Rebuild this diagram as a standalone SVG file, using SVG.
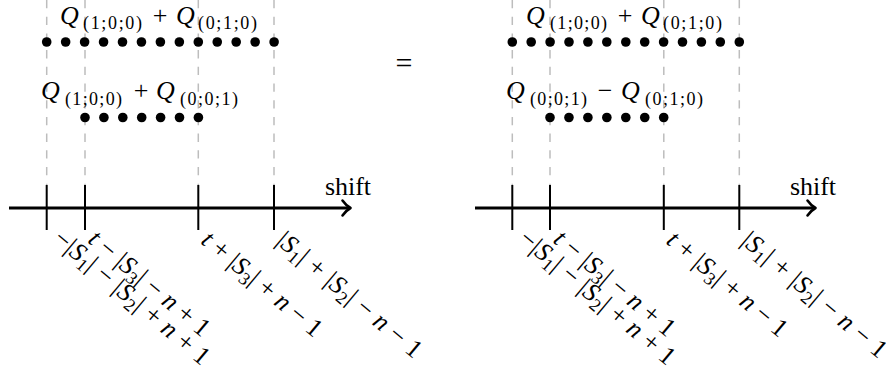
<svg xmlns="http://www.w3.org/2000/svg" width="886" height="378" viewBox="0 0 886 378">
<defs>
<style>
.t{font-family:"Liberation Serif","Times New Roman",serif;fill:#000}
.m{font-size:26px}
.s{font-size:18px}
.i{font-style:italic}
.dash{stroke:#bdbdbd;stroke-width:1.5;stroke-dasharray:8.3 8.4;fill:none}
.axis{stroke:#000;stroke-width:2.9;fill:none}
.arr{stroke:#000;stroke-width:2.6;fill:none;stroke-linecap:round;stroke-linejoin:round}
.tick{stroke:#000;stroke-width:2;fill:none}
.dot{fill:#000}
.lab{font-size:26px}
</style>
</defs>
<rect width="886" height="378" fill="#fff"/>

<g id="connectors">
  <path class="dash" d="M46.7,0V185M85,0V185M198.3,0V185M274,0V185"/>
  <path class="dash" d="M512.3,0V185M550,0V185M663.8,0V185M739.3,0V185"/>
  <path class="axis" d="M9,208H349"/>
  <path class="arr" d="M342.5,200.5Q346,205.5 350.5,208Q346,210.5 342.5,215.5"/>
  <path class="tick" d="M46.7,185V230M85,185V230M198.3,185V230M274,185V230"/>
  <path class="axis" d="M475,208H814"/>
  <path class="arr" d="M807.5,200.5Q811,205.5 815.5,208Q811,210.5 807.5,215.5"/>
  <path class="tick" d="M512.3,185V230M550,185V230M663.8,185V230M739.3,185V230"/>
</g>

<g id="left-top-row">
  <text class="t m i" x="60" y="23.5">Q</text>
  <text class="t s" x="83" y="29" textLength="59" lengthAdjust="spacing">(1;0;0)</text>
  <text class="t m" x="160" y="23.5" text-anchor="middle">+</text>
  <text class="t m i" x="176" y="23.5">Q</text>
  <text class="t s" x="198" y="29" textLength="59" lengthAdjust="spacing">(0;1;0)</text>
  <g class="dot">
    <circle cx="46.7" cy="42" r="4.8"/><circle cx="65.65" cy="42" r="4.8"/><circle cx="84.6" cy="42" r="4.8"/><circle cx="103.55" cy="42" r="4.8"/><circle cx="122.5" cy="42" r="4.8"/><circle cx="141.45" cy="42" r="4.8"/><circle cx="160.4" cy="42" r="4.8"/><circle cx="179.35" cy="42" r="4.8"/><circle cx="198.3" cy="42" r="4.8"/><circle cx="217.25" cy="42" r="4.8"/><circle cx="236.2" cy="42" r="4.8"/><circle cx="255.15" cy="42" r="4.8"/><circle cx="274.1" cy="42" r="4.8"/>
  </g>
</g>

<g id="left-bottom-row">
  <text class="t m i" x="41" y="99">Q</text>
  <text class="t s" x="65" y="104.5" textLength="57" lengthAdjust="spacing">(1;0;0)</text>
  <text class="t m" x="141" y="99" text-anchor="middle">+</text>
  <text class="t m i" x="156" y="99">Q</text>
  <text class="t s" x="180" y="104.5" textLength="58" lengthAdjust="spacing">(0;0;1)</text>
  <g class="dot">
    <circle cx="85" cy="117.5" r="4.8"/><circle cx="103.9" cy="117.5" r="4.8"/><circle cx="122.8" cy="117.5" r="4.8"/><circle cx="141.7" cy="117.5" r="4.8"/><circle cx="160.6" cy="117.5" r="4.8"/><circle cx="179.5" cy="117.5" r="4.8"/><circle cx="198.4" cy="117.5" r="4.8"/>
  </g>
</g>

<g id="left-shift">
  <text class="t m" x="325" y="195" textLength="46" lengthAdjust="spacing">shift</text>
</g>

<g id="left-labels">
  <text class="t lab" transform="translate(52,241) rotate(40)" textLength="195" lengthAdjust="spacing">−|<tspan class="i">S</tspan><tspan class="s" dy="5">1</tspan><tspan dy="-5">| − |</tspan><tspan class="i">S</tspan><tspan class="s" dy="5">2</tspan><tspan dy="-5">| + </tspan><tspan class="i">n</tspan> + 1</text>
  <text class="t lab" transform="translate(86.7,241.5) rotate(40)" textLength="150" lengthAdjust="spacing"><tspan class="i">t</tspan> − |<tspan class="i">S</tspan><tspan class="s" dy="5">3</tspan><tspan dy="-5">| − </tspan><tspan class="i">n</tspan> + 1</text>
  <text class="t lab" transform="translate(199.7,242.5) rotate(40)" textLength="149" lengthAdjust="spacing"><tspan class="i">t</tspan> + |<tspan class="i">S</tspan><tspan class="s" dy="5">3</tspan><tspan dy="-5">| + </tspan><tspan class="i">n</tspan> − 1</text>
  <text class="t lab" transform="translate(275,243) rotate(40)" textLength="181" lengthAdjust="spacing">|<tspan class="i">S</tspan><tspan class="s" dy="5">1</tspan><tspan dy="-5">| + |</tspan><tspan class="i">S</tspan><tspan class="s" dy="5">2</tspan><tspan dy="-5">| − </tspan><tspan class="i">n</tspan> − 1</text>
</g>

<g id="equals">
  <text class="t" x="404" y="73" font-size="30" text-anchor="middle">=</text>
</g>

<g id="right-top-row">
  <text class="t m i" x="526" y="23.5">Q</text>
  <text class="t s" x="550" y="29" textLength="57" lengthAdjust="spacing">(1;0;0)</text>
  <text class="t m" x="625" y="23.5" text-anchor="middle">+</text>
  <text class="t m i" x="641" y="23.5">Q</text>
  <text class="t s" x="663" y="29" textLength="59" lengthAdjust="spacing">(0;1;0)</text>
  <g class="dot">
    <circle cx="512.3" cy="42" r="4.8"/><circle cx="531.2" cy="42" r="4.8"/><circle cx="550.1" cy="42" r="4.8"/><circle cx="569" cy="42" r="4.8"/><circle cx="587.9" cy="42" r="4.8"/><circle cx="606.8" cy="42" r="4.8"/><circle cx="625.8" cy="42" r="4.8"/><circle cx="644.7" cy="42" r="4.8"/><circle cx="663.6" cy="42" r="4.8"/><circle cx="682.5" cy="42" r="4.8"/><circle cx="701.4" cy="42" r="4.8"/><circle cx="720.3" cy="42" r="4.8"/><circle cx="739.3" cy="42" r="4.8"/>
  </g>
</g>

<g id="right-bottom-row">
  <text class="t m i" x="506" y="99">Q</text>
  <text class="t s" x="530" y="104.5" textLength="57" lengthAdjust="spacing">(0;0;1)</text>
  <text class="t m" x="605" y="99" text-anchor="middle">−</text>
  <text class="t m i" x="621" y="99">Q</text>
  <text class="t s" x="645" y="104.5" textLength="58" lengthAdjust="spacing">(0;1;0)</text>
  <g class="dot">
    <circle cx="550" cy="117.5" r="4.8"/><circle cx="568.95" cy="117.5" r="4.8"/><circle cx="587.9" cy="117.5" r="4.8"/><circle cx="606.85" cy="117.5" r="4.8"/><circle cx="625.8" cy="117.5" r="4.8"/><circle cx="644.75" cy="117.5" r="4.8"/><circle cx="663.7" cy="117.5" r="4.8"/>
  </g>
</g>

<g id="right-shift">
  <text class="t m" x="790" y="195" textLength="46" lengthAdjust="spacing">shift</text>
</g>

<g id="right-labels">
  <text class="t lab" transform="translate(517.5,241) rotate(40)" textLength="195" lengthAdjust="spacing">−|<tspan class="i">S</tspan><tspan class="s" dy="5">1</tspan><tspan dy="-5">| − |</tspan><tspan class="i">S</tspan><tspan class="s" dy="5">2</tspan><tspan dy="-5">| + </tspan><tspan class="i">n</tspan> + 1</text>
  <text class="t lab" transform="translate(552,241.5) rotate(40)" textLength="150" lengthAdjust="spacing"><tspan class="i">t</tspan> − |<tspan class="i">S</tspan><tspan class="s" dy="5">3</tspan><tspan dy="-5">| − </tspan><tspan class="i">n</tspan> + 1</text>
  <text class="t lab" transform="translate(665,242.5) rotate(40)" textLength="149" lengthAdjust="spacing"><tspan class="i">t</tspan> + |<tspan class="i">S</tspan><tspan class="s" dy="5">3</tspan><tspan dy="-5">| + </tspan><tspan class="i">n</tspan> − 1</text>
  <text class="t lab" transform="translate(740,243) rotate(40)" textLength="181" lengthAdjust="spacing">|<tspan class="i">S</tspan><tspan class="s" dy="5">1</tspan><tspan dy="-5">| + |</tspan><tspan class="i">S</tspan><tspan class="s" dy="5">2</tspan><tspan dy="-5">| − </tspan><tspan class="i">n</tspan> − 1</text>
</g>
</svg>
